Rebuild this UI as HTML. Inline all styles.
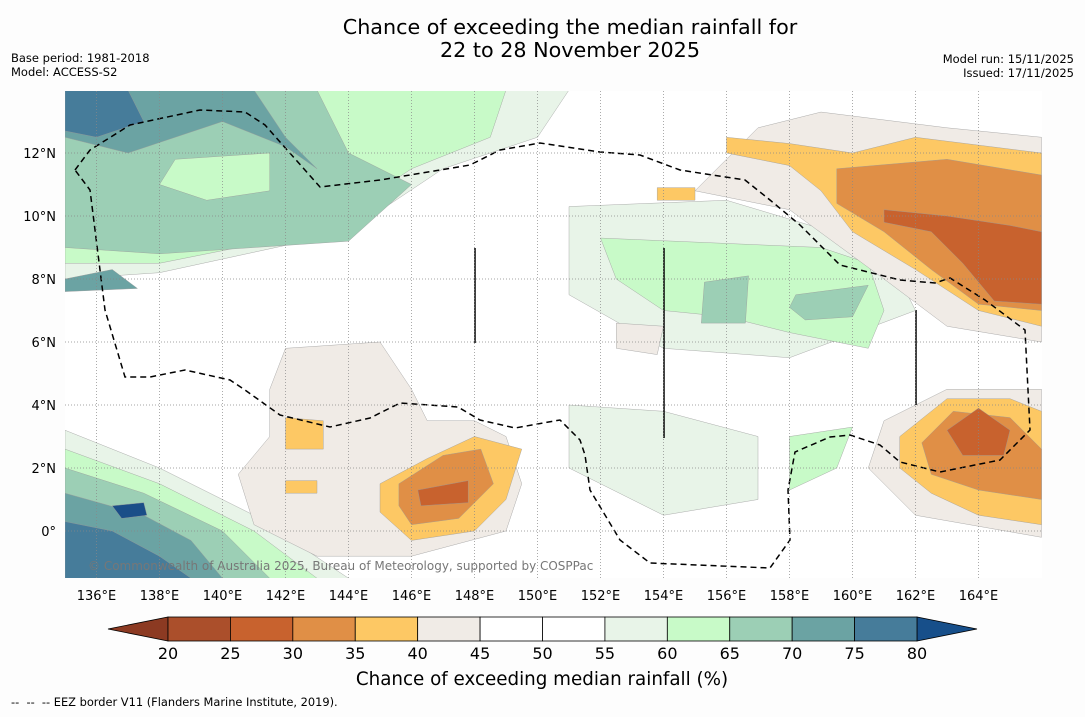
<!DOCTYPE html>
<html><head><meta charset="utf-8">
<style>
body{margin:0;background:#fdfdfd;font-family:"DejaVu Sans",sans-serif;}
</style></head>
<body>
<svg id="chart" width="1085" height="713" xmlns="http://www.w3.org/2000/svg" font-family="DejaVu Sans, sans-serif">
<rect width="1085" height="713" fill="#fdfdfd"/>
<text x="570" y="34" font-size="20.7" text-anchor="middle">Chance of exceeding the median rainfall for</text>
<text x="570" y="57" font-size="20.7" text-anchor="middle">22 to 28 November 2025</text>
<text x="11" y="62" font-size="11.5">Base period: 1981-2018</text>
<text x="11" y="76" font-size="11.5">Model: ACCESS-S2</text>
<text x="1074" y="63" font-size="11.5" text-anchor="end">Model run: 15/11/2025</text>
<text x="1074" y="77" font-size="11.5" text-anchor="end">Issued: 17/11/2025</text>
<defs><clipPath id="mapclip"><rect x="65" y="91" width="977" height="487"/></clipPath></defs>
<rect x="65" y="91" width="977" height="487" fill="#ffffff"/>
<g id="regions" clip-path="url(#mapclip)"></g>
<g id="grid"></g>
<g id="axes"></g>
<g id="colorbar"></g>
<text x="542" y="685" font-size="18.3" text-anchor="middle">Chance of exceeding median rainfall (%)</text>
<text x="11" y="706" font-size="11.4" xml:space="preserve">--  --  -- EEZ border V11 (Flanders Marine Institute, 2019).</text>
</svg>
<script>
const lonTicks=[136,138,140,142,144,146,148,150,152,154,156,158,160,162,164];
const latTicks=[0,2,4,6,8,10,12];
const cbLevels=[20,25,30,35,40,45,50,55,60,65,70,75,80];
const cbColors=["#ab4f2b","#c8622e","#e08f46","#fdc864","#f0ebe6","#ffffff","#ffffff","#e8f4e8","#c8fac8","#9ccfb5","#6ba3a3","#467c9a"];
const underColor="#8c3a22", overColor="#174f8a";
const C={g1:"#e8f4e8",g2:"#c8fac8",t1:"#9ccfb5",t2:"#6ba3a3",t3:"#467c9a",t4:"#1a4e88",b:"#f0ebe6",y:"#fdc864",o:"#e08f46",r:"#c8622e",rr:"#ab4f2b"};
const regions=[
["g1",[[135,14],[151,14],[150,12.5],[147,11.5],[144,9.5],[138,8.2],[135,8]]],
["g2",[[135,14],[149,14],[148.5,12.5],[146,11.5],[143,9.5],[138,8.5],[135,8.5]]],
["t1",[[135,14],[143,14],[144,12],[146,11],[144,9.2],[138,8.8],[135,9]]],
["g2",[[138.5,11.8],[141.5,12.0],[141.5,10.8],[139.5,10.5],[138,11]]],
["t2",[[135,14],[141,14],[142,12.5],[143,11.5],[142,12.2],[140,13],[137,12],[135,12.5]]],
["t2",[[135,8],[136.5,8.3],[137.3,7.7],[135,7.6]]],
["t3",[[135,14],[137,14],[137.5,13],[136,12.5],[135,12.7]]],
["g1",[[135,3.2],[138,2],[141,0.5],[144,-1.5],[135,-1.5]]],
["g2",[[135,2.6],[138,1.5],[141,0],[143,-1.5],[135,-1.5]]],
["t1",[[135,2],[137.5,1.2],[140,0],[141.5,-1.5],[135,-1.5]]],
["t2",[[135,1.2],[137.5,0.5],[139,-0.3],[140,-1.5],[135,-1.5]]],
["t3",[[135,0.3],[136.5,0],[138,-0.8],[139,-1.5],[135,-1.5]]],
["t4",[[136.5,0.8],[137.5,0.9],[137.6,0.5],[136.8,0.4]]],
["g1",[[151,10.3],[156,10.5],[161,9],[162,7],[158,5.5],[154,5.8],[151,7.5]]],
["g2",[[152,9.3],[159,9],[160.5,8.5],[161,7],[160.5,5.8],[158,6.3],[156,6.8],[154,7],[152.5,8]]],
["t1",[[158.2,7.5],[160.5,7.8],[160,6.8],[158.5,6.7],[158,7.1]]],
["t1",[[155.3,7.9],[156.7,8.1],[156.6,6.6],[155.2,6.6]]],
["g1",[[151,4],[154,3.8],[157,3],[157,1],[154,0.5],[151,2]]],
["g2",[[158,3],[160,3.3],[159.5,2],[158,1.3]]],
["b",[[142,5.8],[145,6],[146,4.5],[146.5,3.5],[148,3.5],[149,3],[149.5,1.5],[149,0],[146,-0.8],[143,-0.8],[141,0.2],[140.5,1.8],[141.5,3],[141.5,4.5]]],
["b",[[155,10.8],[157,12.8],[159,13.3],[163,12.8],[166,12.5],[166,6],[163,6.5],[161,8],[158,10.2]]],
["b",[[161,3.5],[163,4.5],[166,4.5],[166,-0.2],[162,0.5],[160.5,2]]],
["b",[[152.5,6.6],[154,6.5],[153.8,5.6],[152.5,5.8]]],
["y",[[156,12.5],[158,12.3],[160,12],[162,12.5],[166,12],[166,6.5],[164,7],[162,8.3],[160,9.5],[159,10.8],[158,11.6],[156,12]]],
["o",[[159.5,11.5],[163,11.8],[166,11.3],[166,7],[164,7.2],[162.5,8.3],[161,9.5],[159.5,10.4]]],
["r",[[161,10.2],[163,10],[165,9.7],[166,9.5],[166,7.2],[164.5,7.3],[163.5,8.5],[162.5,9.5],[161,9.8]]],
["y",[[161.5,3],[163,4.2],[165,4.2],[166,3.8],[166,0.2],[164,0.5],[162.5,1.2],[161.5,2]]],
["o",[[162.2,2.8],[163.2,3.8],[165,3.6],[166,2.6],[166,1],[164,1.3],[162.5,1.8]]],
["r",[[163,3.2],[164,3.9],[165,3.2],[164.8,2.4],[163.5,2.4]]],
["y",[[145,1.5],[146.5,2.3],[148,3],[149.5,2.6],[149,1],[148,0],[146,-0.3],[145,0.6]]],
["o",[[145.6,1.5],[147,2.4],[148.2,2.6],[148.6,1.5],[147.5,0.4],[146,0.2],[145.6,0.8]]],
["r",[[146.2,1.3],[147.8,1.6],[147.8,0.9],[146.3,0.8]]],
["y",[[142,3.6],[143.2,3.5],[143.2,2.6],[142,2.6]]],
["y",[[142,1.6],[143,1.6],[143,1.2],[142,1.2]]],
["y",[[153.8,10.9],[155,10.9],[155,10.5],[153.8,10.5]]]
];
const eez=[[75,170],[90,150],[130,125],[200,110],[245,112],[265,125],[320,187],[380,180],[470,165],[500,150],[540,143],[600,152],[640,155],[680,170],[745,180],[770,200],[800,225],[840,265],[900,280],[935,283],[950,278],[985,300],[1025,330],[1030,430],[1000,460],[940,472],[900,462],[880,445],[850,435],[830,437],[795,452],[788,490],[790,540],[770,568],[650,563],[620,540],[590,490],[585,455],[580,440],[560,420],[515,428],[480,420],[458,407],[400,403],[370,418],[330,427],[280,415],[245,390],[230,380],[185,370],[150,377],[125,377],[105,310],[95,230],[90,190],[75,170]];
const NS="http://www.w3.org/2000/svg";
const px=lon=>65+(lon-135)*31.5, py=lat=>531-lat*31.5;
function mk(tag,attrs,parent){const e=document.createElementNS(NS,tag);for(const k in attrs)e.setAttribute(k,attrs[k]);parent.appendChild(e);return e;}
const rg=document.getElementById('regions');
regions.forEach(([c,pts])=>{
  const p=mk('polygon',{points:pts.map(q=>px(q[0])+','+py(q[1])).join(' '),fill:C[c],stroke:'#999',"stroke-width":0.4},rg);
  
  
});
const e=mk('polyline',{points:eez.map(q=>q.join(',')).join(' '),fill:'none',stroke:'#000','stroke-width':1.5,'stroke-dasharray':'6,4'},rg);


[[475,248,343],[664,248,438],[916,310,405]].forEach(v=>{
  const l=mk('line',{x1:v[0],x2:v[0],y1:v[1],y2:v[2],stroke:'#000','stroke-width':1.5},rg);
  
  
});
const ct=mk('text',{x:88,y:570,'font-size':12,fill:'#777'},rg);
ct.textContent='© Commonwealth of Australia 2025, Bureau of Meteorology, supported by COSPPac';


const gr=document.getElementById('grid'), ax=document.getElementById('axes');
lonTicks.forEach(l=>{
  const g=mk('line',{x1:px(l),x2:px(l),y1:91,y2:578,stroke:'#888','stroke-width':0.7,'stroke-dasharray':'1,2'},gr);
  
  
  const t=mk('text',{x:px(l),y:600,'font-size':13,'text-anchor':'middle'},ax);
  t.textContent=l+'°E';
  
  
});
latTicks.forEach(l=>{
  const g=mk('line',{x1:65,x2:1042,y1:py(l),y2:py(l),stroke:'#888','stroke-width':0.7,'stroke-dasharray':'1,2'},gr);
  
  
  const t=mk('text',{x:56,y:py(l)+5,'font-size':13,'text-anchor':'end'},ax);
  t.textContent=l===0?'0°':l+'°N';
  
  
});
const cb=document.getElementById('colorbar');
const cx0=168,cx1=917,cy=617,ch=24;
const cx=v=>cx0+(v-cbLevels[0])/(cbLevels[cbLevels.length-1]-cbLevels[0])*(cx1-cx0);
const u=mk('polygon',{points:`108,${cy+ch/2} ${cx0},${cy} ${cx0},${cy+ch}`,fill:underColor,stroke:'#000','stroke-width':0.8},cb);


const o=mk('polygon',{points:`977,${cy+ch/2} ${cx1},${cy} ${cx1},${cy+ch}`,fill:overColor,stroke:'#000','stroke-width':0.8},cb);


cbColors.forEach((c,i)=>{
  const r=mk('rect',{x:cx(cbLevels[i]),y:cy,width:cx(cbLevels[i+1])-cx(cbLevels[i]),height:ch,fill:c,stroke:'#000','stroke-width':0.8},cb);
  
  
});
cbLevels.forEach(v=>{
  const t=mk('text',{x:cx(v),y:659,'font-size':16,'text-anchor':'middle'},cb);
  t.textContent=v;
  
  
});
</script>
</body></html>
